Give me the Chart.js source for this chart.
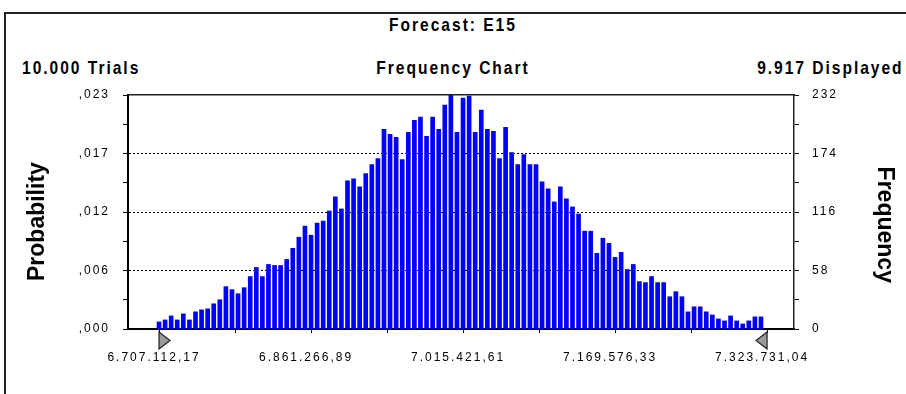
<!DOCTYPE html>
<html>
<head>
<meta charset="utf-8">
<script src="https://cdn.jsdelivr.net/npm/chart.js@4.4.1/dist/chart.umd.min.js"></script>
<style>
  html, body { margin: 0; padding: 0; background: #fff; overflow: hidden; }
  #wrap { position: relative; width: 906px; height: 394px; }
  #frame { position: absolute; left: 4px; top: 12px; right: -10px; bottom: -10px;
           border-left: 2px solid #222; border-top: 2px solid #222; }
  .hdr { position: absolute; font: bold 19px 'Liberation Sans', Arial, sans-serif;
         letter-spacing: 2.4px; line-height: 20px; color: #000; white-space: nowrap;
         transform: scaleX(0.82); }
  canvas { position: absolute; left: 0; top: 0; }
</style>
</head>
<body>
<div id="wrap">
  <div id="frame"></div>
  <div class="hdr" style="left:0;width:906px;top:15px;text-align:center;transform-origin:453px 50%">Forecast: E15</div>
  <div class="hdr" style="left:22px;top:58px;transform-origin:0 50%">10.000 Trials</div>
  <div class="hdr" style="left:0;width:906px;top:58px;text-align:center;transform-origin:453px 50%">Frequency Chart</div>
  <div class="hdr" style="right:2px;top:58px;transform-origin:100% 50%">9.917 Displayed</div>
  <canvas id="forecastChart" width="906" height="394"></canvas>
</div>
<script>
// frequency per bin (100 bins)
const freqs = [
  7, 9, 13, 9, 15, 9, 17, 19, 20, 25, 29, 42, 39, 35, 41, 52, 61, 52, 64, 63, 63, 69, 80, 91, 102,
  93, 105, 107, 117, 131, 119, 147, 149, 141, 154, 163, 169, 198, 193, 190, 168, 195, 207, 210, 191, 210, 198, 222, 232, 195,
  229, 231, 195, 217, 198, 196, 169, 200, 175, 163, 173, 163, 163, 146, 139, 126, 141, 129, 121, 114, 97, 97, 75, 90, 85,
  71, 76, 59, 64, 47, 46, 52, 46, 46, 32, 37, 32, 17, 22, 22, 17, 14, 10, 8, 13, 8, 5, 8, 12, 12
];
const bins = freqs.map((f, i) => i);

const xTickValues = [0, 12.5, 25, 37.5, 50, 62.5, 75, 87.5, 100];
const xTickLabels = ['6.707.112,17', '6.861.266,89', '7.015.421,61', '7.169.576,33', '7.323.731,04'];
const yTickValues = [0, 29, 58, 87, 116, 145, 174, 203, 232];
const probTickLabels = [',000', ',006', ',012', ',017', ',023'];
const freqTickLabels = ['0', '58', '116', '174', '232'];

const tickFont = { family: "'Liberation Sans', Arial, sans-serif", size: 12 };
const titleFont = { family: "'Liberation Sans', Arial, sans-serif", size: 23, weight: 'bold', lineHeight: 1 };

// tick labels are drawn after the bars (z: 1), spaced out like the original
const spacedTicks = {
  id: 'spacedTicks',
  beforeDatasetsDraw(chart) { chart.ctx.letterSpacing = '2px'; },
  afterDraw(chart) { chart.ctx.letterSpacing = '0px'; }
};

// the two grey certainty grabbers under the x axis
const grabbers = {
  id: 'grabbers',
  afterDraw(chart) {
    const { ctx, scales: { x } } = chart;
    const top = x.top + 3, h = 17, w = 11;
    const drawTri = (px, dir) => {
      ctx.save();
      ctx.beginPath();
      ctx.moveTo(px, top);
      ctx.lineTo(px, top + h);
      ctx.lineTo(px + dir * w, top + h / 2);
      ctx.closePath();
      ctx.fillStyle = '#9a9a9a';
      ctx.fill();
      ctx.strokeStyle = '#222';
      ctx.lineWidth = 1.2;
      ctx.stroke();
      ctx.restore();
    };
    drawTri(x.getPixelForValue(xTickValues[0]), 1);
    drawTri(x.getPixelForValue(xTickValues[xTickValues.length - 1]), -1);
  }
};

const setTicks = (values) => (scale) => { scale.ticks = values.map(v => ({ value: v })); };
const isInnerGrid = (c) => c.tick && c.tick.value % 58 === 0 && c.tick.value > 0 && c.tick.value < 232;

const ctx = document.getElementById('forecastChart').getContext('2d');
const forecastChart = new Chart(ctx, {
  type: 'bar',
  data: {
    datasets: [{
      data: bins.map((b, i) => ({ x: b, y: freqs[i] })),
      backgroundColor: '#0000ff',
      borderWidth: 0,
      barThickness: 4,
      xAxisID: 'x',
      yAxisID: 'y1'
    }]
  },
  options: {
    responsive: false,
    animation: false,
    layout: { padding: { top: 95, left: 0, right: 0, bottom: 0 } },
    plugins: { legend: { display: false }, tooltip: { enabled: false } },
    scales: {
      x: {
        type: 'linear',
        position: 'bottom',
        offset: false,
        min: -5.1,
        max: 104.43,
        afterFit: (s) => { s.height = 65; },
        afterBuildTicks: setTicks(xTickValues),
        ticks: {
          z: 1, autoSkip: false, maxRotation: 0, padding: 17, labelOffset: -5,
          color: '#000', font: tickFont,
          callback: (v) => (v % 25 === 0 ? xTickLabels[v / 25] : '')
        },
        grid: { drawOnChartArea: false, offset: false, tickLength: 4, tickColor: '#000' },
        border: { color: '#000', width: 2 }
      },
      xTop: {
        type: 'linear',
        position: 'top',
        offset: false,
        min: -5.1,
        max: 104.43,
        afterFit: (s) => { s.height = 0; },
        ticks: { display: false },
        grid: { display: false },
        border: { color: '#222', width: 1.5 }
      },
      y: {
        position: 'left',
        min: 0,
        max: 232,
        afterFit: (s) => { s.width = 128; },
        afterBuildTicks: setTicks(yTickValues),
        ticks: {
          z: 1, padding: 13, color: '#000', font: tickFont,
          callback: (v) => (v % 58 === 0 ? probTickLabels[v / 58] : '')
        },
        grid: {
          color: (c) => (isInnerGrid(c) ? '#000' : 'rgba(0,0,0,0)'),
          tickColor: '#000',
          tickLength: 5,
          lineWidth: 1
        },
        border: { color: '#000', width: 2, dash: [2, 2] },
        // trailing spaces push the word a little below the middle, as in the original
        title: { display: true, text: 'Probability   ', color: '#000', font: titleFont, padding: { top: 26 } }
      },
      y1: {
        position: 'right',
        min: 0,
        max: 232,
        afterFit: (s) => { s.width = 112; },
        afterBuildTicks: setTicks(yTickValues),
        ticks: {
          z: 1, padding: 13, color: '#000', font: tickFont,
          callback: (v) => (v % 58 === 0 ? freqTickLabels[v / 58] : '')
        },
        grid: { drawOnChartArea: false, tickColor: '#000', tickLength: 5 },
        border: { color: '#222', width: 1.5 },
        title: { display: true, text: '    Frequency', color: '#000', font: titleFont, padding: { top: 10 } }
      }
    }
  },
  plugins: [spacedTicks, grabbers]
});
</script>
</body>
</html>
